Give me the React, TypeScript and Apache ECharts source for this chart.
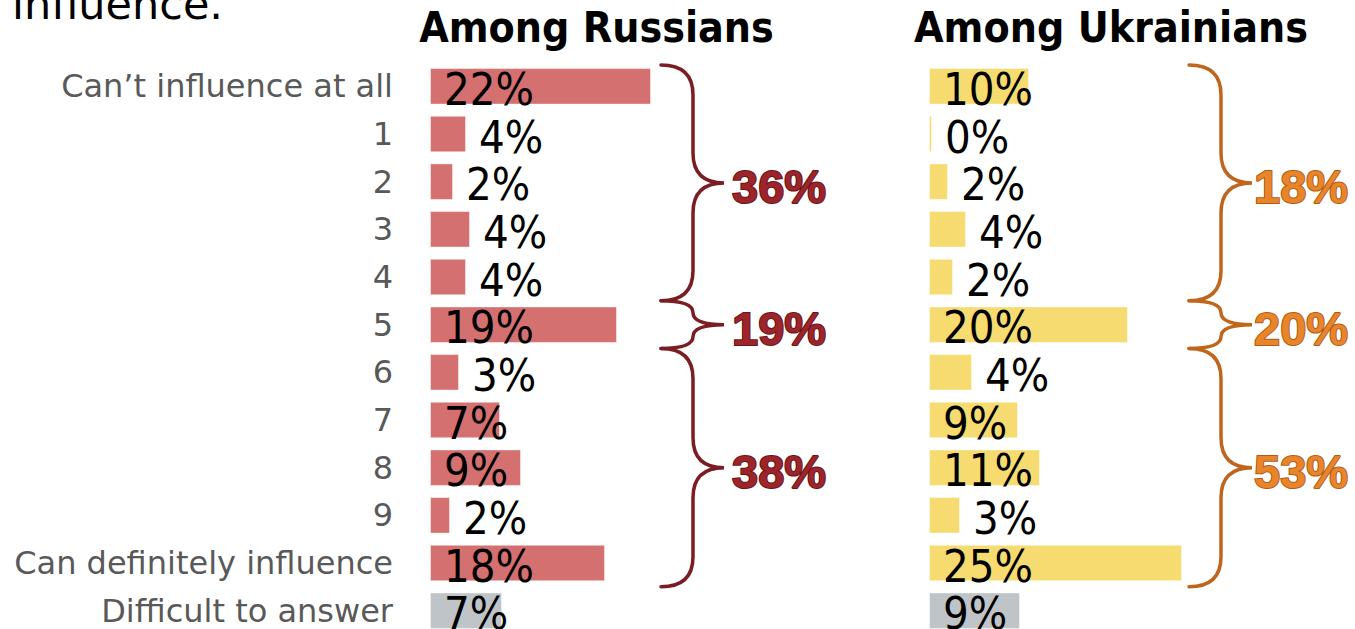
import React, { useEffect, useRef } from "react";
import * as echarts from "echarts";

// ---------- data ----------
const categories = [
  "Can’t influence at all",
  "1",
  "2",
  "3",
  "4",
  "5",
  "6",
  "7",
  "8",
  "9",
  "Can definitely influence",
  "Difficult to answer",
];
const russians = [22.1, 3.6, 2.3, 4.0, 3.6, 18.7, 2.9, 7.0, 9.1, 2.0, 17.5, 7.2];
const ukrainians = [10.0, 0.3, 1.9, 3.7, 2.4, 19.9, 4.3, 8.9, 11.1, 3.1, 25.3, 9.1];
const panelTitles = ["Among Russians", "Among Ukrainians"];
const groupFrom = [0, 5, 6];
const groupTo = [4, 5, 10];
const russianGroupTotals = [36, 19, 38];
const ukrainianGroupTotals = [18, 20, 53];
const titleTail = "influence.";

// ---------- styles ----------
const RED = "#D4706F";
const YELLOW = "#F6DB70";
const GRAY = "#BFC4C8";
const FONT = "'DejaVu Sans', Verdana, sans-serif";
const FONT_COND = "'DejaVu Sans Condensed', 'DejaVu Sans', sans-serif";
const FONT_BRACE = "'Liberation Sans', Arial, sans-serif";

const Brace = echarts.graphic.extendShape({
  type: "brace",
  shape: { x: 0, y1: 0, y2: 100, w1: 32, w2: 31 },
  buildPath(ctx: any, s: any) {
    const xS = s.x + s.w1;
    const xT = xS + s.w2;
    const ym = (s.y1 + s.y2) / 2;
    const ry = Math.min(30, (s.y2 - s.y1) / 4);
    ctx.moveTo(s.x, s.y1);
    ctx.quadraticCurveTo(xS, s.y1, xS, s.y1 + ry);
    ctx.lineTo(xS, ym - ry);
    ctx.quadraticCurveTo(xS, ym, xT, ym);
    ctx.quadraticCurveTo(xS, ym, xS, ym + ry);
    ctx.lineTo(xS, s.y2 - ry);
    ctx.quadraticCurveTo(xS, s.y2, s.x, s.y2);
  },
} as any);
echarts.graphic.registerShape("brace", Brace as any);

function makeData(vals: number[], color: string) {
  return vals.map((v, i) => {
    const inside = v >= 6;
    return {
      value: v,
      itemStyle: { color: i === vals.length - 1 ? GRAY : color },
      label: {
        position: inside ? "insideLeft" : "right",
        distance: inside ? 14 : 13,
      },
    };
  });
}

export default function App() {
  const ref = useRef<HTMLDivElement>(null);

  useEffect(() => {
    if (!ref.current) return;
    const chart = echarts.init(ref.current, null, { renderer: "svg" });

    const gridTop = 62.5;
    const gridHeight = 572;
    const barLabel = {
      show: true,
      formatter: (p: any) => `${Math.round(p.value)}%`,
      fontSize: 45,
      fontFamily: FONT_COND,
      color: "#000",
      offset: [0, 3],
    };

    chart.setOption({
      animation: false,
      backgroundColor: "#fff",
      grid: [
        { left: 430, top: gridTop, width: 300, height: gridHeight },
        { left: 929, top: gridTop, width: 300, height: gridHeight },
      ],
      xAxis: [0, 1].map((g) => ({
        type: "value",
        gridIndex: g,
        min: 0,
        max: 30,
        show: false,
      })),
      yAxis: [0, 1].map((g) => ({
        type: "category",
        gridIndex: g,
        inverse: true,
        data: categories,
        axisLine: { show: false },
        axisTick: { show: false },
        splitLine: { show: false },
        axisLabel: {
          show: g === 0,
          fontSize: 32,
          fontFamily: FONT,
          color: "#595959",
          margin: 37,
          padding: [12, 0, 0, 0],
        },
      })),
      series: [
        {
          type: "bar",
          xAxisIndex: 0,
          yAxisIndex: 0,
          barWidth: 36.5,
          data: makeData(russians, RED),
          label: barLabel,
          itemStyle: { borderColor: "rgba(255,255,255,0.45)", borderWidth: 1 },
        },
        {
          type: "bar",
          xAxisIndex: 1,
          yAxisIndex: 1,
          barWidth: 36.5,
          data: makeData(ukrainians, YELLOW),
          label: barLabel,
          itemStyle: { borderColor: "rgba(255,255,255,0.45)", borderWidth: 1 },
        },
      ],
    });

    const yc = (i: number) =>
      chart.convertToPixel({ yAxisIndex: 0 } as any, categories[i]) as number;
    const band = yc(1) - yc(0);

    const panels = [
      {
        totals: russianGroupTotals,
        braceX: 661,
        textX: 732,
        line: "#7A1E24",
        fill: "#9B252B",
        stroke: "#6A1418",
      },
      {
        totals: ukrainianGroupTotals,
        braceX: 1189,
        textX: 1254,
        line: "#C0651C",
        fill: "#E8852B",
        stroke: "#B05C15",
      },
    ];

    const elements: any[] = [
      {
        type: "text",
        x: 12,
        y: 4,
        style: {
          text: titleTail,
          fontSize: 43,
          fontFamily: FONT,
          fill: "#000",
          align: "left",
          verticalAlign: "middle",
        },
      },
      ...panelTitles.map((t, k) => ({
        type: "text",
        x: k === 0 ? 596.5 : 1111,
        y: 27.5,
        style: {
          text: t,
          fontSize: 42.5,
          fontWeight: "bold",
          fontFamily: FONT_COND,
          fill: "#000",
          align: "center",
          verticalAlign: "middle",
        },
      })),
    ];

    panels.forEach((p) => {
      groupFrom.forEach((from, gi) => {
        const y1 = yc(from) - band / 2 + (gi === 0 ? 2.5 : 0);
        const y2 = yc(groupTo[gi]) + band / 2;
        const ym = (y1 + y2) / 2;
        elements.push({
          type: "brace",
          shape: { x: p.braceX, y1, y2, w1: 32, w2: 31 },
          style: { stroke: p.line, lineWidth: 3.5, fill: "none", lineCap: "round" },
        });
        elements.push({
          type: "text",
          x: p.textX,
          y: ym + 4,
          style: {
            text: `${p.totals[gi]}%`,
            fontSize: 47,
            fontWeight: "bold",
            fontFamily: FONT_BRACE,
            fill: p.fill,
            stroke: p.stroke,
            lineWidth: 2,
            align: "left",
            verticalAlign: "middle",
            shadowBlur: 4,
            shadowColor: "rgba(0,0,0,0.35)",
            shadowOffsetX: 1,
            shadowOffsetY: 2,
          },
        });
      });
    });

    chart.setOption({ graphic: { elements } });

    return () => chart.dispose();
  }, []);

  return (
    <div
      style={{
        position: "absolute",
        left: 0,
        top: 0,
        width: 1355,
        height: 629,
        overflow: "hidden",
        background: "#fff",
      }}
    >
      <div ref={ref} style={{ width: 1355, height: 660 }} />
    </div>
  );
}
